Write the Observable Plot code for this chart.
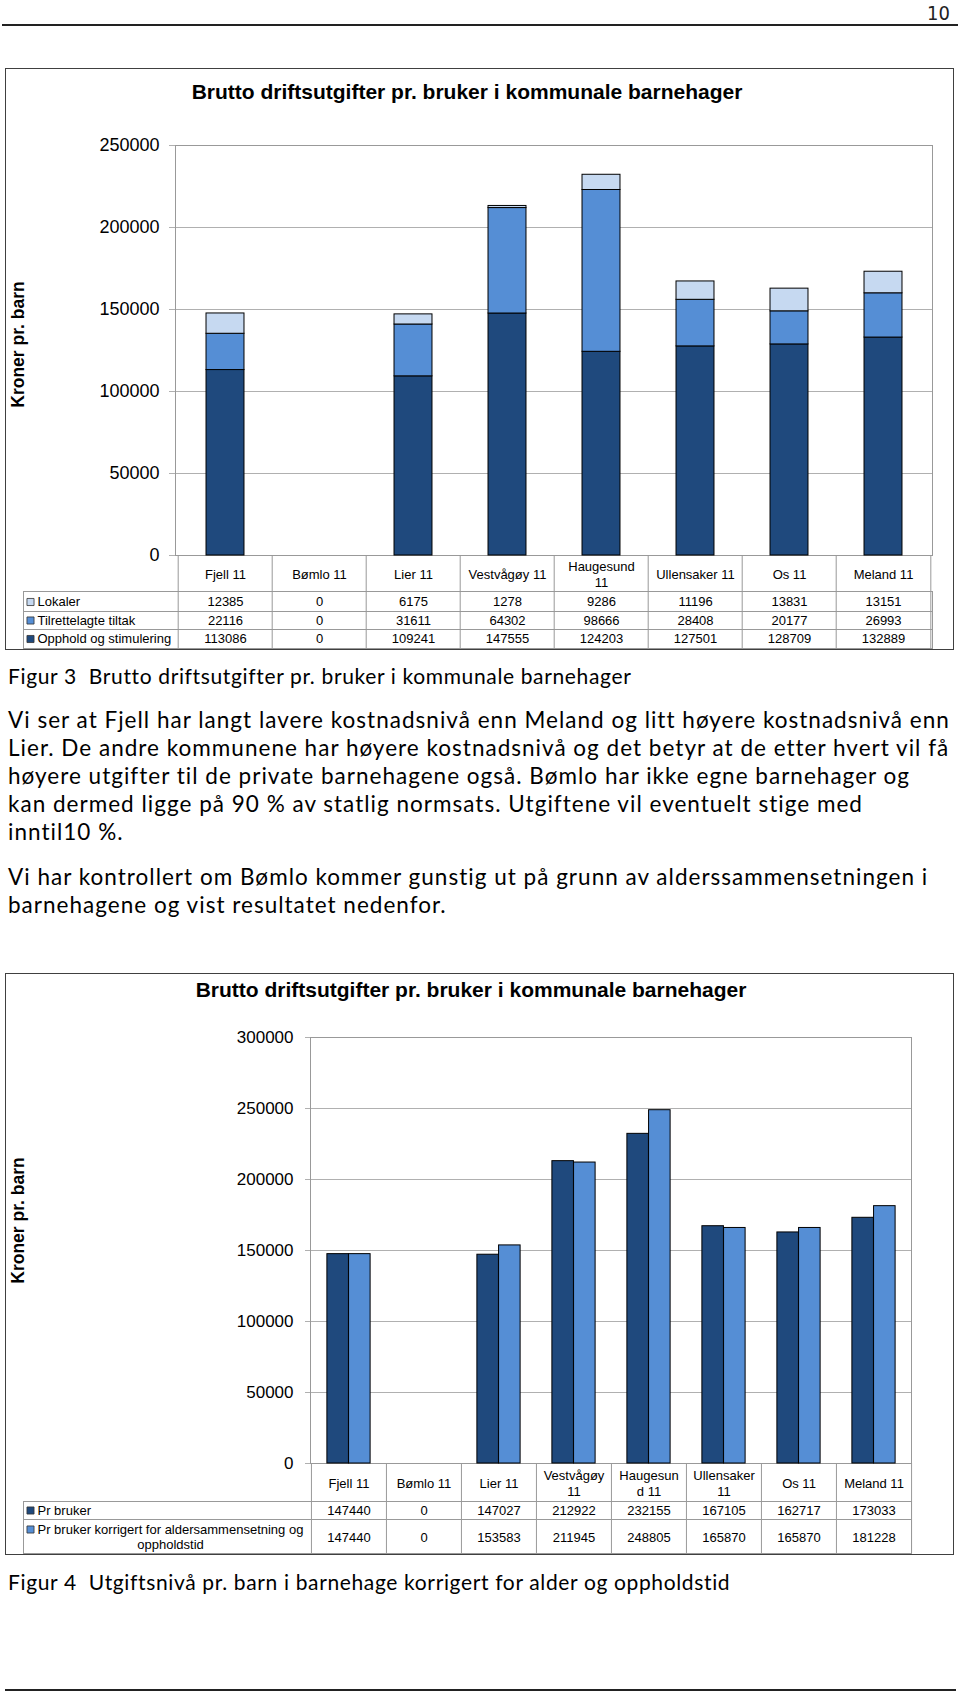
<!DOCTYPE html>
<html><head><meta charset="utf-8">
<script src="https://cdn.jsdelivr.net/npm/d3@7"></script>
<script src="https://cdn.jsdelivr.net/npm/@observablehq/plot@0.6"></script>
<style>
html,body{margin:0;padding:0;background:#fff;}
#page{position:relative;width:960px;height:1693px;overflow:hidden;color:#000;}
.txt{position:absolute;white-space:pre;line-height:1;transform:translateY(-50%);font-family:Lato,"Open Sans",sans-serif;font-variant-ligatures:none;}
.box{position:absolute;border:1.5px solid #404040;box-sizing:border-box;}
.ctitle{position:absolute;transform:translate(-50%,-50%);font-family:"Liberation Sans",Arial,sans-serif;font-weight:bold;font-size:21px;line-height:1;white-space:nowrap;}
.hr{position:absolute;background:#222;}
.chart{position:absolute;left:6px;width:947px;}
</style></head>
<body><div id="page"></div>
<script>
// ---------- data ----------
const categories = ["Fjell 11","Bømlo 11","Lier 11","Vestvågøy 11","Haugesund 11","Ullensaker 11","Os 11","Meland 11"];
const headerLabels1 = ["Fjell 11","Bømlo 11","Lier 11","Vestvågøy 11","Haugesund\n11","Ullensaker 11","Os 11","Meland 11"];
const headerLabels2 = ["Fjell 11","Bømlo 11","Lier 11","Vestvågøy\n11","Haugesun\nd 11","Ullensaker\n11","Os 11","Meland 11"];

const series1 = ["Lokaler","Tilrettelagte tiltak","Opphold og stimulering"];
const stackOrder1 = ["Opphold og stimulering","Tilrettelagte tiltak","Lokaler"];
const lokaler = [12385,0,6175,1278,9286,11196,13831,13151];
const tilrettelagte = [22116,0,31611,64302,98666,28408,20177,26993];
const opphold = [113086,0,109241,147555,124203,127501,128709,132889];
const ticks1 = [0,50000,100000,150000,200000,250000];

const series2 = ["Pr bruker","Pr bruker korrigert for aldersammensetning og oppholdstid"];
const legendLines2 = ["Pr bruker korrigert for aldersammensetning og","oppholdstid"];
const prBruker = [147440,0,147027,212922,232155,167105,162717,173033];
const korrigert = [147440,0,153583,211945,248805,165870,165870,181228];
const ticks2 = [0,50000,100000,150000,200000,250000,300000];

const chartTitle = "Brutto driftsutgifter pr. bruker i kommunale barnehager";
const yLabel = "Kroner pr. barn";
const pageNumber = "10";
const caption3 = "Figur 3  Brutto driftsutgifter pr. bruker i kommunale barnehager";
const paragraph1 = [
  "Vi ser at Fjell har langt lavere kostnadsnivå enn Meland og litt høyere kostnadsnivå enn",
  "Lier. De andre kommunene har høyere kostnadsnivå og det betyr at de etter hvert vil få",
  "høyere utgifter til de private barnehagene også. Bømlo har ikke egne barnehager og",
  "kan dermed ligge på 90 % av statlig normsats. Utgiftene vil eventuelt stige med",
  "inntil10 %."
];
const paragraph2 = [
  "Vi har kontrollert om Bømlo kommer gunstig ut på grunn av alderssammensetningen i",
  "barnehagene og vist resultatet nedenfor."
];
const caption4 = "Figur 4  Utgiftsnivå pr. barn i barnehage korrigert for alder og oppholdstid";

// ---------- layout helpers ----------
const FONT = '"Liberation Sans", Arial, Helvetica, sans-serif';
const BODY = 'Lato, "Open Sans", sans-serif';
const GRID = "#b0b0b0", LINE = "#999999";
const TFS = 13;
const page = document.getElementById("page");
function add(cls, styles, text) {
  const d = document.createElement("div");
  d.className = cls; Object.assign(d.style, styles);
  if (text != null) d.textContent = text;
  page.appendChild(d); return d;
}
const ctx = document.createElement("canvas").getContext("2d");
function measure(text, family, size) { ctx.font = `${size}px ${family}`; return ctx.measureText(text).width; }
const bodySize = 22.5;
const bodySpacing = (942 - measure(paragraph1[0], BODY, bodySize)) / paragraph1[0].length;
const capSize = 21;
const capSpacing = (623 - measure(caption3, BODY, capSize)) / caption3.length;

// header
add("txt", {right: "10px", top: "13px", fontFamily: '"Liberation Sans Narrow","DejaVu Sans Condensed","Liberation Sans",sans-serif', fontSize: "20px", color: "#222"}, pageNumber);
add("hr", {left: "2px", width: "956px", top: "24px", height: "1.5px"});
add("hr", {left: "5px", width: "951px", top: "1689px", height: "2px"});

// text
const capStyle = {left: "8px", fontSize: capSize + "px", letterSpacing: capSpacing + "px"};
const bodyStyle = {left: "8px", fontSize: bodySize + "px", letterSpacing: bodySpacing + "px"};
add("txt", {...capStyle, top: "675px"}, caption3);
[720, 748, 776, 804, 832].forEach((y, i) => add("txt", {...bodyStyle, top: y + "px"}, paragraph1[i]));
[877, 905].forEach((y, i) => add("txt", {...bodyStyle, top: y + "px"}, paragraph2[i]));
add("txt", {...capStyle, top: "1581px"}, caption4);

// boxes + titles
add("box", {left: "5px", top: "68px", width: "949px", height: "582px"});
add("box", {left: "5px", top: "973px", width: "949px", height: "582px"});
add("ctitle", {left: "467px", top: "91px"}, chartTitle);
add("ctitle", {left: "471px", top: "989px"}, chartTitle);

// ---------- chart 1 : stacked ----------
function stackedChart() {
  const width = 947, height = 539, mL = 169, mR = 21, mT = 35, mB = 94;
  const fw = width - mL - mR, fh = height - mT - mB;
  const bw = fw / categories.length;
  const inset = (bw - 38.6) / 2;
  const byName = {"Lokaler": lokaler, "Tilrettelagte tiltak": tilrettelagte, "Opphold og stimulering": opphold};
  const stacked = stackOrder1.flatMap(s => categories.map((c, i) => ({cat: c, series: s, value: byName[s][i]})));
  const rowDy = [46.5, 65, 83.5];
  const tableMarks = series1.flatMap((s, r) => [
    Plot.text(categories.map((c, i) => ({cat: c, v: byName[s][i]})), {x: "cat", text: d => String(d.v), frameAnchor: "bottom", lineAnchor: "middle", dy: rowDy[r]}),
    Plot.text([s], {text: d => d, frameAnchor: "bottom-left", lineAnchor: "middle", dx: -138, dy: rowDy[r], textAnchor: "start"}),
    Plot.dot([s], {fill: d => d, symbol: "square", r: 4, stroke: "#333", strokeWidth: 0.8, frameAnchor: "bottom-left", dx: -145, dy: rowDy[r]})
  ]);
  return Plot.plot({
    width, height, marginLeft: mL, marginRight: mR, marginTop: mT, marginBottom: mB,
    x: {type: "band", domain: categories, padding: 0, axis: null},
    y: {type: "linear", domain: [0, 250000], axis: null},
    color: {domain: series1, range: ["#C6D9F1", "#558ED5", "#1F497D"]},
    style: {fontFamily: FONT, fontSize: TFS + "px", color: "#000", background: "transparent"},
    marks: [
      Plot.ruleY(ticks1, {stroke: GRID}),
      Plot.ruleY(ticks1, {stroke: GRID, insetLeft: -6, insetRight: fw}),
      Plot.frame({stroke: LINE}),
      Plot.axisY({ticks: ticks1, tickSize: 0, tickPadding: 16, fontSize: 18, tickFormat: d => String(d), label: null}),
      Plot.barY(stacked, {x: "cat", y: "value", fill: "series", order: stackOrder1, stroke: "#000", strokeWidth: 1, insetLeft: inset, insetRight: inset}),
      Plot.text([yLabel], {text: d => d, frameAnchor: "left", textAnchor: "middle", lineAnchor: "middle", dx: -157, dy: -6, rotate: -90, fontWeight: "bold", fontSize: 17.5}),
      // table grid
      Plot.frame({stroke: LINE, insetLeft: -152, insetTop: fh + 36, insetBottom: -(mB - 1)}),
      Plot.ruleY([0], {stroke: LINE, dy: 56, insetLeft: -152}),
      Plot.ruleY([0], {stroke: LINE, dy: 74, insetLeft: -152}),
      Plot.ruleX(categories, {x: d => d, dx: -bw / 2, insetTop: fh, insetBottom: -(mB - 1), stroke: LINE}),
      Plot.ruleX(categories.slice(-1), {x: d => d, dx: bw / 2, insetTop: fh, insetBottom: -(mB - 1), stroke: LINE}),
      Plot.text(categories, {x: d => d, text: (d, i) => headerLabels1[i], frameAnchor: "bottom", lineAnchor: "middle", dy: 18, lineHeight: 1.25}),
      ...tableMarks
    ]
  });
}

// ---------- chart 2 : grouped ----------
function groupedChart() {
  const width = 947, height = 544, mL = 304, mR = 42, mT = 27, mB = 91;
  const fw = width - mL - mR, fh = height - mT - mB;
  const bw = fw / categories.length;
  const barW = 21.67, gap = (bw - 2 * barW) / 2;
  const vals = [prBruker, korrigert];
  const bars = k => Plot.barY(categories.map((c, i) => ({cat: c, series: series2[k], value: vals[k][i]})),
    {x: "cat", y: "value", fill: "series", stroke: "#000", strokeWidth: 1,
     insetLeft: k === 0 ? gap : gap + barW, insetRight: k === 0 ? gap + barW : gap});
  const valueRow = (k, dy) => Plot.text(categories.map((c, i) => ({cat: c, v: vals[k][i]})), {x: "cat", text: d => String(d.v), frameAnchor: "bottom", lineAnchor: "middle", dy});
  return Plot.plot({
    width, height, marginLeft: mL, marginRight: mR, marginTop: mT, marginBottom: mB,
    x: {type: "band", domain: categories, padding: 0, axis: null},
    y: {type: "linear", domain: [0, 300000], axis: null},
    color: {domain: series2, range: ["#1F497D", "#558ED5"]},
    style: {fontFamily: FONT, fontSize: TFS + "px", color: "#000", background: "transparent"},
    marks: [
      Plot.ruleY(ticks2, {stroke: GRID}),
      Plot.ruleY(ticks2, {stroke: GRID, insetLeft: -5, insetRight: fw}),
      Plot.frame({stroke: LINE}),
      Plot.axisY({ticks: ticks2, tickSize: 0, tickPadding: 17, fontSize: 17, tickFormat: d => String(d), label: null}),
      bars(0), bars(1),
      Plot.text([yLabel], {text: d => d, frameAnchor: "left", textAnchor: "middle", lineAnchor: "middle", dx: -292, dy: -30, rotate: -90, fontWeight: "bold", fontSize: 17.5}),
      // table grid
      Plot.frame({stroke: LINE, insetLeft: -287, insetTop: fh + 38, insetBottom: -(mB - 1)}),
      Plot.ruleY([0], {stroke: LINE, dy: 56, insetLeft: -287}),
      Plot.ruleX(categories, {x: d => d, dx: -bw / 2, insetTop: fh, insetBottom: -(mB - 1), stroke: LINE}),
      Plot.ruleX(categories.slice(-1), {x: d => d, dx: bw / 2, insetTop: fh, insetBottom: -(mB - 1), stroke: LINE}),
      Plot.text(categories, {x: d => d, text: (d, i) => headerLabels2[i], frameAnchor: "bottom", lineAnchor: "middle", dy: 19, lineHeight: 1.22}),
      valueRow(0, 47), valueRow(1, 74),
      Plot.text([series2[0]], {text: d => d, frameAnchor: "bottom-left", lineAnchor: "middle", dx: -273, dy: 47, textAnchor: "start"}),
      Plot.dot([series2[0]], {fill: d => d, symbol: "square", r: 4, stroke: "#333", strokeWidth: 0.8, frameAnchor: "bottom-left", dx: -280, dy: 47}),
      Plot.text([legendLines2[0]], {text: d => d, frameAnchor: "bottom-left", lineAnchor: "middle", dx: -273, dy: 66, textAnchor: "start"}),
      Plot.text([legendLines2[1]], {text: d => d, frameAnchor: "bottom-left", lineAnchor: "middle", dx: -140, dy: 81, textAnchor: "middle"}),
      Plot.dot([series2[1]], {fill: d => d, symbol: "square", r: 4, stroke: "#333", strokeWidth: 0.8, frameAnchor: "bottom-left", dx: -280, dy: 66})
    ]
  });
}

const c1 = document.createElement("div"); c1.className = "chart"; c1.style.top = "110px"; c1.appendChild(stackedChart()); page.appendChild(c1);
const c2 = document.createElement("div"); c2.className = "chart"; c2.style.top = "1010px"; c2.appendChild(groupedChart()); page.appendChild(c2);
</script>
</body></html>
